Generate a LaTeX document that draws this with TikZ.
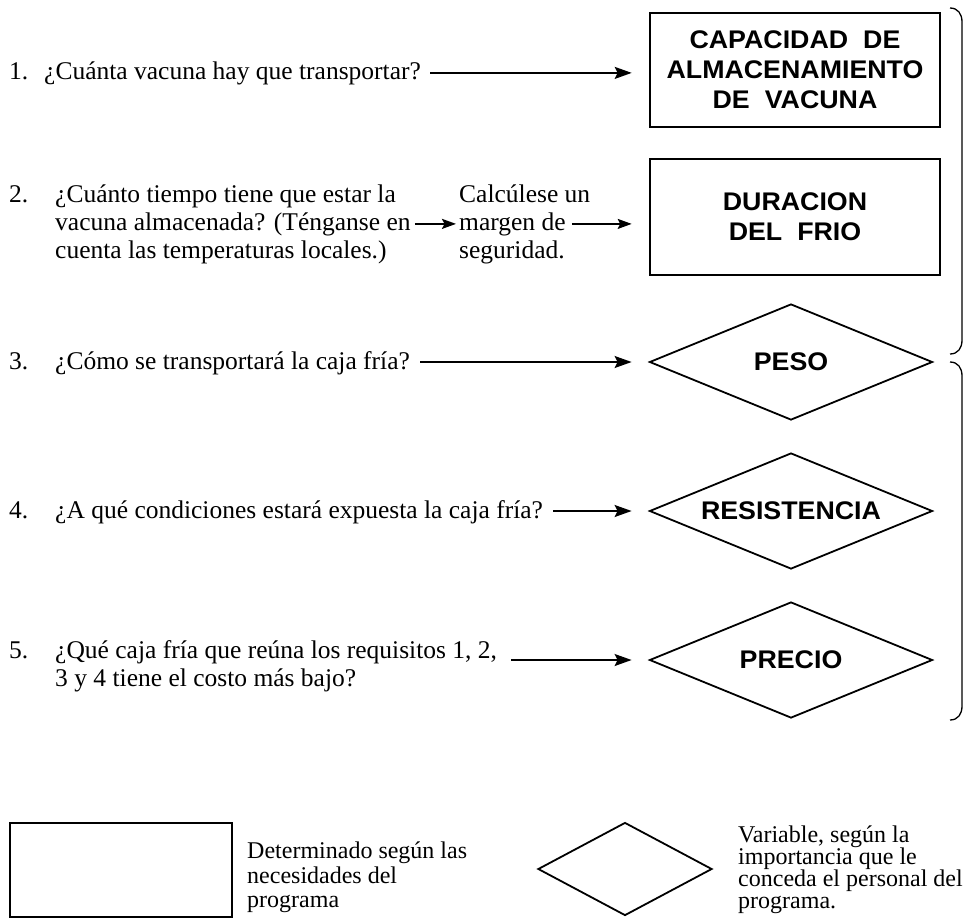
\documentclass[tikz,border=0pt]{standalone}
\usepackage{fontspec}
\setmainfont{Liberation Serif}
\newfontfamily\boxfont{Liberation Sans}[FakeStretch=1.05]
\usetikzlibrary{arrows.meta,shapes.geometric,calc}
\begin{document}
\begin{tikzpicture}[x=1pt,y=-1pt,
  txt/.style={anchor=base west, inner sep=0pt, font=\fontsize{25.5}{28}\selectfont},
  lg/.style={anchor=base west, inner sep=0pt, font=\fontsize{24}{26}\selectfont},
  bigbox/.style={draw, line width=2.6pt, minimum width=290pt, minimum height=114pt, inner sep=0pt, align=center, font=\boxfont\bfseries\fontsize{25.5}{30}\selectfont},
  dia/.style={draw, diamond, shape aspect=2.44, line width=1.8pt, minimum width=283pt, minimum height=116pt, inner sep=0pt, font=\boxfont\bfseries\fontsize{25.5}{30}\selectfont},
  arr/.style={line width=1.8pt, shorten >=17pt, -{Stealth[length=17pt,width=12pt,inset=3pt]}},
  sarr/.style={line width=1.8pt, -{Stealth[length=14pt,width=10pt,inset=2.5pt]}},
  brace/.style={line width=1.3pt}
]
\useasboundingbox (0,0) rectangle (969,919);

% right column shapes
\node[bigbox] (b1) at (795,70) {CAPACIDAD\hspace{15pt}DE\\ALMACENAMIENTO\\DE\hspace{15pt}VACUNA};
\node[bigbox, minimum height=116pt] (b2) at (795,217) {DURACION\\DEL\hspace{15pt}FRIO};
\node[dia] (d3) at (791,362) {PESO};
\node[dia] (d4) at (791,511) {RESISTENCIA};
\node[dia] (d5) at (791,660) {PRECIO};

% item 1
\node[txt] (n1) at (9,79) {1.};
\node[txt] (q1) at (44,79) {¿Cuánta vacuna hay que transportar?};
\coordinate (s1) at ([xshift=9pt]q1.east);
\draw[arr] (s1) -- (s1 -| b1.west);

% item 2
\node[txt] (n2) at (9,202) {2.};
\node[txt] (q2a) at (55,202) {¿Cuánto tiempo tiene que estar la};
\node[txt] (q2b) at (55,230) {vacuna almacenada? (Ténganse en};
\node[txt] (q2c) at (55,258) {cuenta las temperaturas locales.)};
\node[txt] (c2a) at (459,202) {Calcúlese un};
\node[txt] (c2b) at (459,230) {margen de};
\node[txt] (c2c) at (459,258) {seguridad.};
\coordinate (s2) at ([xshift=4pt]q2b.east);
\draw[sarr, shorten >=3pt] (s2) -- (s2 -| c2b.west);
\coordinate (s2b) at ([xshift=6pt]c2b.east);
\draw[sarr, shorten >=17pt] (s2b) -- (s2b -| b2.west);

% item 3
\node[txt] (n3) at (9,369) {3.};
\node[txt] (q3) at (55,369) {¿Cómo se transportará la caja fría?};
\coordinate (s3) at ([xshift=10pt]q3.east);
\draw[arr] (s3 |- d3.west) -- (d3.west);

% item 4
\node[txt] (n4) at (9,518) {4.};
\node[txt] (q4) at (55,518) {¿A qué condiciones estará expuesta la caja fría?};
\coordinate (s4) at ([xshift=10pt]q4.east);
\draw[arr] (s4 |- d4.west) -- (d4.west);

% item 5
\node[txt] (n5) at (9,658) {5.};
\node[txt] (q5a) at (55,658) {¿Qué caja fría que reúna los requisitos 1, 2,};
\node[txt] (q5b) at (55,686) {3 y 4 tiene el costo más bajo?};
\coordinate (s5) at ([xshift=14pt]q5a.east);
\draw[arr] (s5 |- d5.west) -- (d5.west);

% braces
\draw[brace] (950,8) .. controls (958,8) and (962,14) .. (962,22) -- (962,340) .. controls (962,348) and (958,354) .. (950,354);
\draw[brace] (950,362) .. controls (958,362) and (962,368) .. (962,376) -- (962,706) .. controls (962,714) and (958,720) .. (950,720);

% legend
\node[draw, line width=2pt, minimum width=222pt, minimum height=94pt] (lr) at (121,870) {};
\node[lg] (l1) at (247,858) {Determinado según las};
\node[lg] (l2) at (247,883) {necesidades del};
\node[lg] (l3) at (247,907) {programa};
\node[draw, diamond, line width=1.8pt, minimum width=174pt, minimum height=93pt, inner sep=0pt] (ld) at (625,869) {};
\node[lg] (r1) at (738,842) {Variable, según la};
\node[lg] (r2) at (738,864) {importancia que le};
\node[lg] (r3) at (738,886) {conceda el personal del};
\node[lg] (r4) at (738,908) {programa.};
\end{tikzpicture}
\end{document}
